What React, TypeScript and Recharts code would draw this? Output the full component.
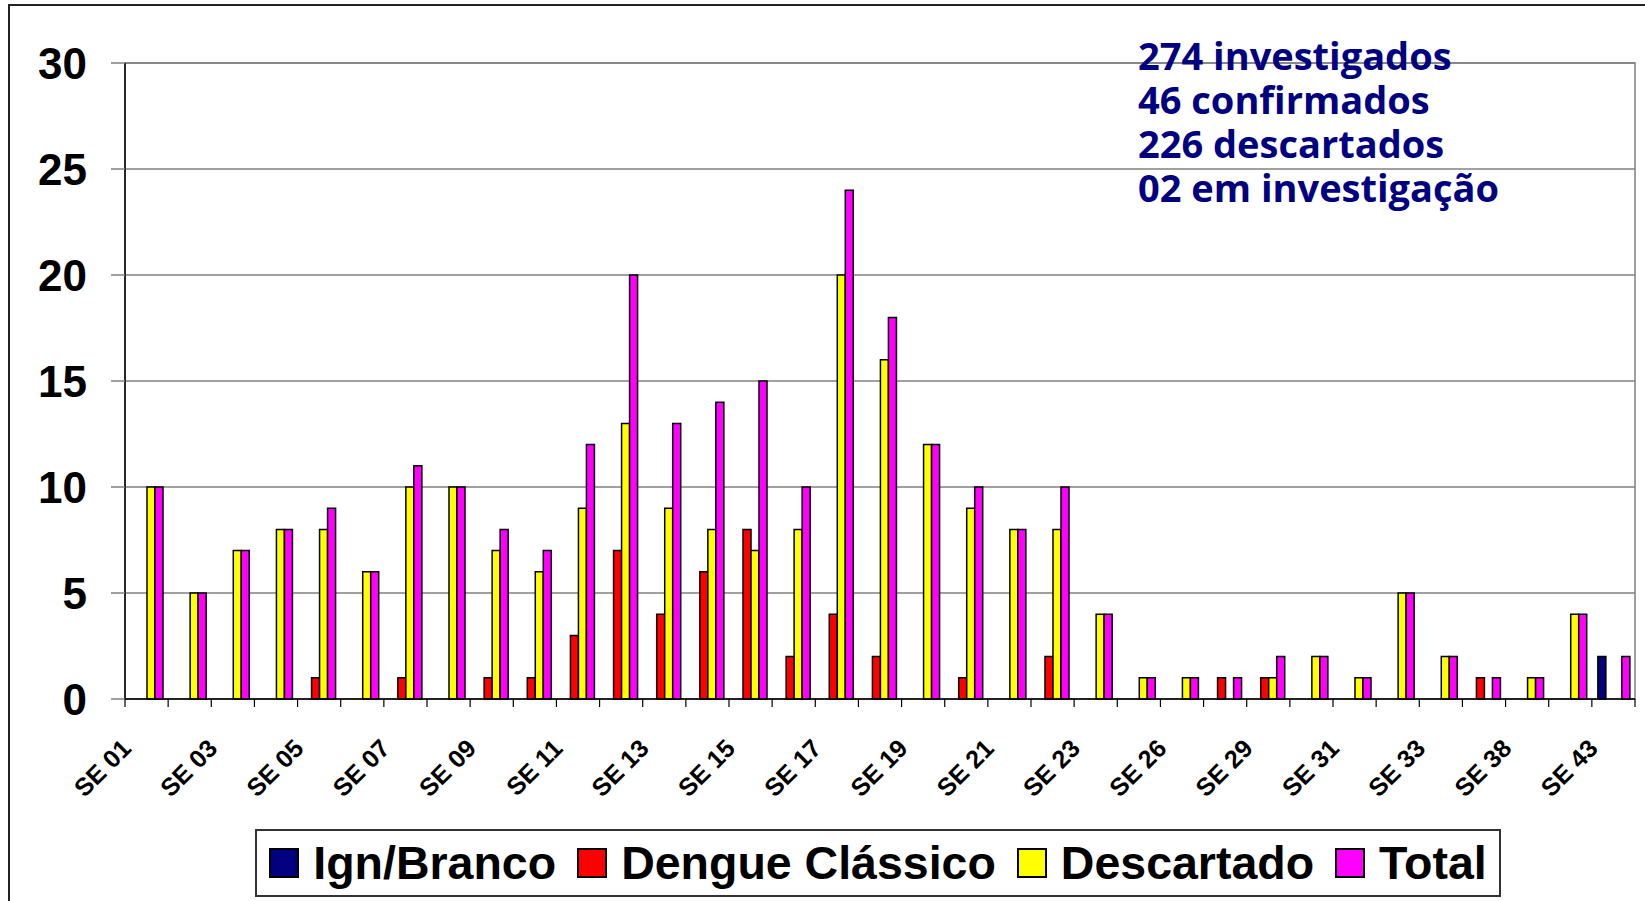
import React from 'react';
import { BarChart, Bar, XAxis, YAxis, CartesianGrid, ReferenceArea, Legend } from 'recharts';

const weeks = [
  'SE 01', 'SE 02', 'SE 03', 'SE 04', 'SE 05', 'SE 06', 'SE 07', 'SE 08', 'SE 09', 'SE 10',
  'SE 11', 'SE 12', 'SE 13', 'SE 14', 'SE 15', 'SE 16', 'SE 17', 'SE 18', 'SE 19', 'SE 20',
  'SE 21', 'SE 22', 'SE 23', 'SE 24', 'SE 26', 'SE 27', 'SE 29', 'SE 30', 'SE 31', 'SE 32',
  'SE 33', 'SE 35', 'SE 38', 'SE 40', 'SE 43',
];
const ignBranco = [
  0, 0, 0, 0, 0, 0, 0, 0, 0, 0, 0, 0, 0, 0, 0, 0, 0, 0, 0, 0,
  0, 0, 0, 0, 0, 0, 0, 0, 0, 0, 0, 0, 0, 0, 2,
];
const dengueClassico = [
  0, 0, 0, 0, 1, 0, 1, 0, 1, 1, 3, 7, 4, 6, 8, 2, 4, 2, 0, 1,
  0, 2, 0, 0, 0, 1, 1, 0, 0, 0, 0, 1, 0, 0, 0,
];
const descartado = [
  10, 5, 7, 8, 8, 6, 10, 10, 7, 6, 9, 13, 9, 8, 7, 8, 20, 16, 12, 9,
  8, 8, 4, 1, 1, 0, 1, 2, 1, 5, 2, 0, 1, 4, 0,
];
const total = [
  10, 5, 7, 8, 9, 6, 11, 10, 8, 7, 12, 20, 13, 14, 15, 10, 24, 18, 12, 10,
  8, 10, 4, 1, 1, 1, 2, 2, 1, 5, 2, 1, 1, 4, 2,
];
const yTicks = [0, 5, 10, 15, 20, 25, 30];
const summaryLines = ['274 investigados', '46 confirmados', '226 descartados', '02 em investigação'];

const series = [
  { key: 'ign', name: 'Ign/Branco', color: '#000080' },
  { key: 'dengue', name: 'Dengue Clássico', color: '#FF0000' },
  { key: 'desc', name: 'Descartado', color: '#FFFF00' },
  { key: 'total', name: 'Total', color: '#FF00FF' },
];

const data = weeks.map((w, i) => ({
  week: w,
  ign: ignBranco[i],
  dengue: dengueClassico[i],
  desc: descartado[i],
  total: total[i],
}));

const FONT = '"Liberation Sans", Arial, sans-serif';

const XTick = (props: any) => {
  const { x, y, payload, index } = props;
  const half = payload && payload.offset ? payload.offset : 1510 / 35 / 2;
  const isLast = index === weeks.length - 1;
  const tx = x - 14;
  const ty = y + 51;
  return (
    <g>
      <line x1={x - half} y1={y} x2={x - half} y2={y + 8} stroke="#000" strokeWidth={1.2} />
      {isLast && <line x1={x + half} y1={y} x2={x + half} y2={y + 8} stroke="#000" strokeWidth={1.2} />}
      {index % 2 === 0 && (
        <text
          x={tx}
          y={ty}
          transform={`rotate(-45 ${tx} ${ty})`}
          textAnchor="end"
          fontFamily={FONT}
          fontWeight="bold"
          fontSize={25}
          fill="#000"
        >
          {payload.value}
        </text>
      )}
    </g>
  );
};

const LegendContent = () => (
  <div
    style={{
      boxSizing: 'border-box',
      width: 1246,
      height: 68,
      border: '2px solid #333',
      background: '#fff',
      display: 'flex',
      alignItems: 'center',
      justifyContent: 'center',
      fontFamily: FONT,
      fontWeight: 'bold',
      fontSize: 46.5,
      color: '#000',
    }}
  >
    {series.map((s, i) => (
      <div key={s.key} style={{ display: 'flex', alignItems: 'center' }}>
        <span
          style={{
            display: 'inline-block',
            boxSizing: 'border-box',
            width: 30,
            height: 30,
            background: s.color,
            border: '2px solid #000',
            marginRight: 14,
          }}
        />
        <span style={{ marginRight: i === series.length - 1 ? 0 : 21, lineHeight: '66px' }}>{s.name}</span>
      </div>
    ))}
  </div>
);

export default function App() {
  return (
    <div
      style={{
        position: 'absolute',
        left: 0,
        top: 0,
        width: 1645,
        height: 901,
        overflow: 'hidden',
        background: '#fff',
      }}
    >
      <div
        style={{
          position: 'absolute',
          left: 8,
          top: 4,
          width: 1700,
          height: 1000,
          border: '2px solid #222',
          boxSizing: 'border-box',
        }}
      />
      <div style={{ position: 'absolute', left: 0, top: 0 }}>
        <BarChart
          width={1645}
          height={901}
          data={data}
          margin={{ top: 63, right: 10, bottom: 92, left: 25 }}
          barSize={8}
          barGap={0}
        >
          <CartesianGrid vertical={false} stroke="#808080" strokeWidth={1.5} />
          <ReferenceArea y1={0} y2={30} fill="none" stroke="#808080" strokeWidth={1.5} ifOverflow="visible" />
          <XAxis
            dataKey="week"
            interval={0}
            tickLine={false}
            tickSize={0}
            tickMargin={0}
            height={110}
            axisLine={{ stroke: '#000', strokeWidth: 1.5 }}
            tick={<XTick />}
          />
          <YAxis
            width={100}
            domain={[0, 30]}
            ticks={yTicks}
            interval={0}
            tickSize={14}
            tickMargin={24}
            tickLine={{ stroke: '#808080', strokeWidth: 1.5 }}
            axisLine={{ stroke: '#000', strokeWidth: 1.5 }}
            tick={{ fontFamily: FONT, fontWeight: 'bold', fontSize: 44, fill: '#000' }}
          />
          {series.map((s) => (
            <Bar
              key={s.key}
              dataKey={s.key}
              name={s.name}
              fill={s.color}
              stroke="#000"
              strokeWidth={1.5}
              isAnimationActive={false}
            />
          ))}
          <Legend
            layout="horizontal"
            verticalAlign="middle"
            align="center"
            content={<LegendContent />}
            wrapperStyle={{ left: 255, top: 829, width: 1246, height: 68 }}
          />
        </BarChart>
      </div>
      <div
        style={{
          position: 'absolute',
          left: 1138,
          top: 33,
          fontFamily: '"Open Sans", "Noto Sans", sans-serif',
          fontWeight: 700,
          fontSize: 38,
          lineHeight: '44px',
          color: '#000080',
          whiteSpace: 'nowrap',
        }}
      >
        {summaryLines.map((l) => (
          <div key={l}>{l}</div>
        ))}
      </div>
    </div>
  );
}
